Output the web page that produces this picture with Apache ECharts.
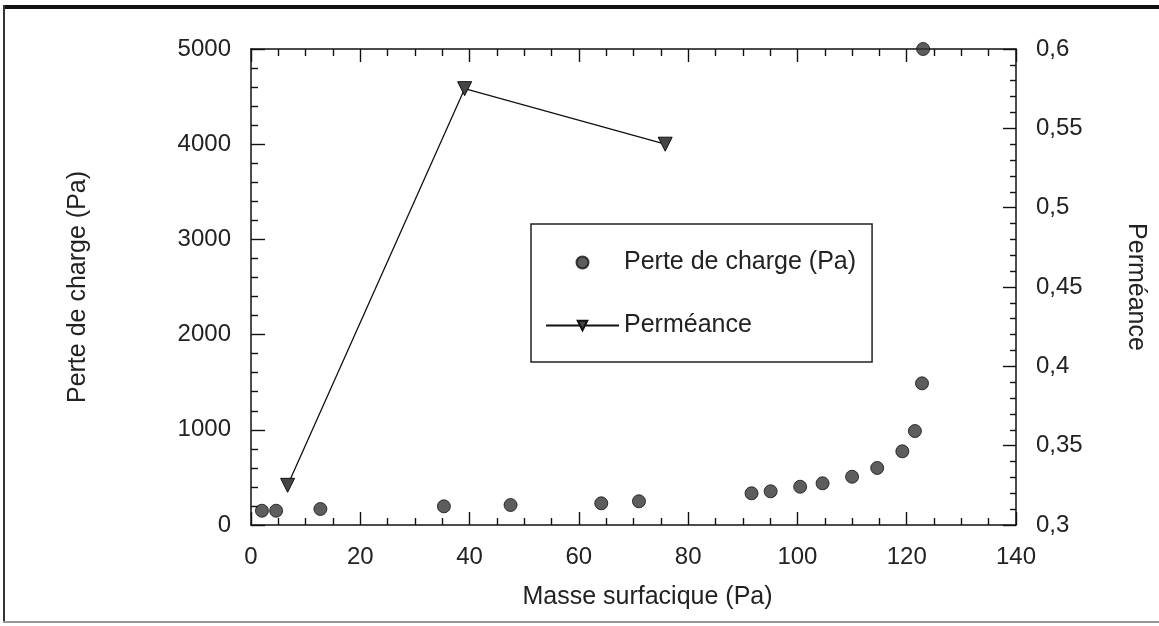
<!DOCTYPE html>
<html>
<head>
<meta charset="utf-8">
<script src="https://cdn.jsdelivr.net/npm/echarts@6/dist/echarts.min.js"></script>
<style>html,body{margin:0;padding:0;background:#fff}#c{width:1159px;height:626px}</style>
</head>
<body>
<div id="c"></div>
<script>
// Perte de charge (Pa) vs Masse surfacique
const masseA = [2.0, 4.6, 12.7, 35.3, 47.5, 64.1, 71.0, 91.6, 95.1, 100.5, 104.6, 110.0, 114.6, 119.2, 121.5, 122.8, 123.0];
const perteCharge = [150, 150, 168, 196, 210, 228, 249, 333, 354, 402, 438, 507, 599, 774, 987, 1488, 5000];
// Perméance vs Masse surfacique
const masseB = [6.7, 39.1, 75.8];
const permeance = [0.325, 0.575, 0.540];

const xTitle = 'Masse surfacique (Pa)';
const yLeftTitle = 'Perte de charge (Pa)';
const yRightTitle = 'Perméance';
const seriesNames = ['Perte de charge (Pa)', 'Perméance'];

const FONT = '"Liberation Sans", Arial, Helvetica, sans-serif';
const chart = echarts.init(document.getElementById('c'));

const axisLine = { show: true, onZero: false, lineStyle: { color: '#111', width: 1.5 } };
const tickStyle = { color: '#111', width: 1.4 };

chart.setOption({
  backgroundColor: '#fff',
  animation: false,
  textStyle: { fontFamily: FONT },
  grid: { left: 251, top: 49, right: 143, bottom: 101, containLabel: false },
  legend: {
    orient: 'vertical',
    left: 531, top: 224,
    padding: [26, 16, 24, 14],
    borderColor: '#222', borderWidth: 1.5,
    itemWidth: 73, itemHeight: 12, itemGap: 38,
    textStyle: { fontFamily: FONT, fontSize: 25, color: '#222' },
    data: [
      { name: seriesNames[0], icon: 'circle' },
      { name: seriesNames[1] }
    ]
  },
  xAxis: [
    {
      type: 'value', position: 'bottom', min: 0, max: 140, interval: 20,
      axisLine: axisLine,
      axisTick: { show: true, inside: true, length: 13, lineStyle: tickStyle },
      minorTick: { show: true, splitNumber: 4, length: 7, lineStyle: tickStyle },
      axisLabel: { fontSize: 24, color: '#222', margin: 20, fontFamily: FONT },
      splitLine: { show: false },
      name: xTitle, nameLocation: 'middle', nameGap: 60,
      nameTextStyle: { fontSize: 25, color: '#222', fontFamily: FONT, padding: [0, 0, 0, 28] }
    },
    {
      type: 'value', position: 'top', min: 0, max: 140, interval: 20,
      axisLine: axisLine,
      axisTick: { show: true, inside: true, length: 13, lineStyle: tickStyle },
      minorTick: { show: true, splitNumber: 4, length: 7, lineStyle: tickStyle },
      axisLabel: { show: false },
      splitLine: { show: false }
    }
  ],
  yAxis: [
    {
      type: 'value', position: 'left', min: 0, max: 5000, interval: 1000,
      axisLine: axisLine,
      axisTick: { show: true, inside: true, length: 14, lineStyle: tickStyle },
      minorTick: { show: true, splitNumber: 5, length: 7, lineStyle: tickStyle },
      axisLabel: { fontSize: 24, color: '#222', margin: 20, fontFamily: FONT, formatter: v => String(v) },
      splitLine: { show: false },
      name: yLeftTitle, nameLocation: 'middle', nameGap: 160, nameRotate: 90,
      nameTextStyle: { fontSize: 25, color: '#222', fontFamily: FONT }
    },
    {
      type: 'value', position: 'right', min: 0.3, max: 0.6, interval: 0.05,
      axisLine: axisLine,
      axisTick: { show: true, inside: true, length: 13, lineStyle: tickStyle },
      minorTick: { show: true, splitNumber: 5, length: 6, lineStyle: tickStyle },
      axisLabel: {
        fontSize: 24, color: '#222', margin: 20, fontFamily: FONT,
        formatter: v => String(parseFloat(v.toFixed(2))).replace('.', ',')
      },
      splitLine: { show: false },
      name: yRightTitle, nameLocation: 'middle', nameGap: 107, nameRotate: -90,
      nameTextStyle: { fontSize: 25, color: '#222', fontFamily: FONT }
    }
  ],
  series: [
    {
      name: seriesNames[0], type: 'scatter', xAxisIndex: 0, yAxisIndex: 0,
      symbol: 'circle', symbolSize: 13, clip: false,
      itemStyle: { color: '#353535', borderColor: '#111', borderWidth: 1 },
      data: masseA.map((x, i) => [x, perteCharge[i]])
    },
    {
      name: seriesNames[1], type: 'line', xAxisIndex: 0, yAxisIndex: 1,
      symbol: 'triangle', symbolRotate: 180, symbolSize: 14, showSymbol: true,
      lineStyle: { color: '#111', width: 1.3 },
      itemStyle: { color: '#444', borderColor: '#111', borderWidth: 1 },
      data: masseB.map((x, i) => [x, permeance[i]])
    }
  ],
  graphic: [
    { type: 'rect', shape: { x: 4, y: 5, width: 1155, height: 4 }, style: { fill: '#111' }, silent: true },
    { type: 'rect', shape: { x: 3, y: 5, width: 2, height: 618 }, style: { fill: '#333' }, silent: true },
    { type: 'rect', shape: { x: 3, y: 621, width: 1156, height: 2 }, style: { fill: '#999' }, silent: true }
  ]
});
</script>
</body>
</html>
